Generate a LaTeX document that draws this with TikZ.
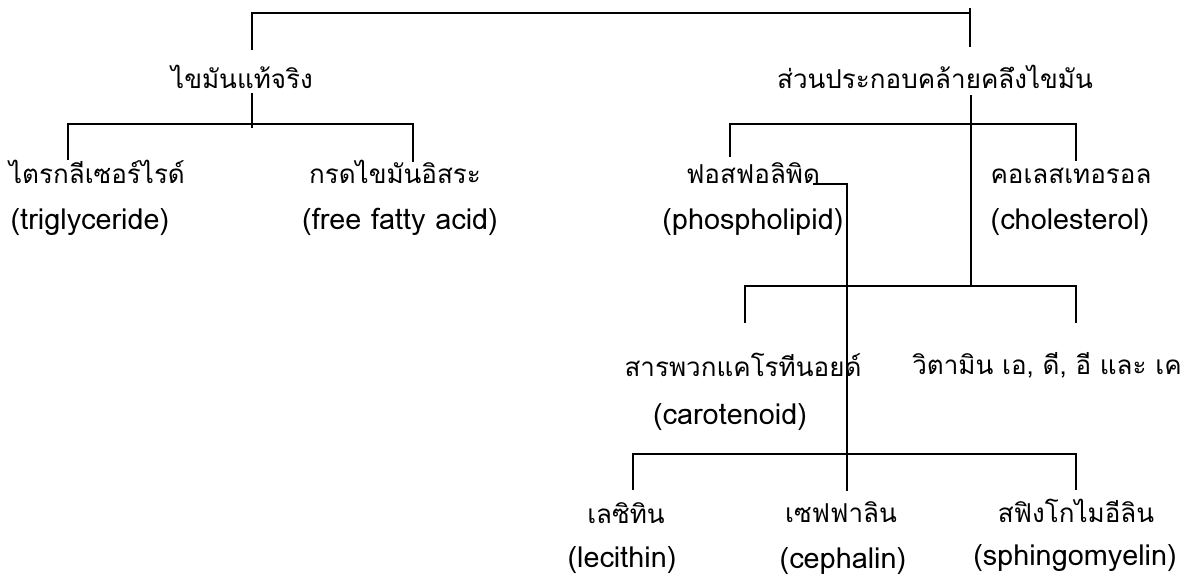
\documentclass[tikz,border=0pt]{standalone}
\usepackage{fontspec}
\newfontfamily\thaifont[Script=Thai]{Loma}

\tikzset{
  th/.style={font=\thaifont\fontsize{18.5}{20}\selectfont, anchor=base, inner sep=0pt},
  en/.style={font=\thaifont\fontsize{20.5}{22}\selectfont, anchor=center, inner sep=0pt},
  tree/.style={line width=1.2pt}
}

\begin{document}
\begin{tikzpicture}[x=0.025cm,y=-0.025cm]
  \useasboundingbox (0,0) rectangle (1189,579);
  % level 1
  \node[th] (fat) at (242,88) {ไขมันแท้จริง};
  \node[th] (like) at (935,88) {ส่วนประกอบคล้ายคลึงไขมัน};
  % level 2
  \node[th] (tri) at (97,183) {ไตรกลีเซอร์ไรด์};
  \node[en] (tri-en) at (90,222) {(triglyceride)};
  \node[th] (ffa) at (395,183) {กรดไขมันอิสระ};
  \node[en] (ffa-en) at (400,222) {(free fatty acid)};
  \node[th] (phos) at (753,183) {ฟอสฟอลิพิด};
  \node[en] (phos-en) at (753,222) {(phospholipid)};
  \node[th] (chol) at (1071,183) {คอเลสเทอรอล};
  \node[en] (chol-en) at (1070,222) {(cholesterol)};
  \node[th] (caro) at (743,376) {สารพวกแคโรทีนอยด์};
  \node[en] (caro-en) at (730,417) {(carotenoid)};
  \node[th] (vit) at (1047,374) {วิตามิน เอ, ดี, อี และ เค};
  % phospholipid kinds
  \node[th] (leci) at (626,523) {เลซิทิน};
  \node[en] (leci-en) at (622,560) {(lecithin)};
  \node[th] (ceph) at (841,522) {เซฟฟาลิน};
  \node[en] (ceph-en) at (843,561) {(cephalin)};
  \node[th] (sphi) at (1076,522) {สฟิงโกไมอีลิน};
  \node[en] (sphi-en) at (1075,558) {(sphingomyelin)};

  % branch points
  \coordinate (fat-in) at (252,50);
  \coordinate (like-in) at (970,8);
  \coordinate (top) at (970,13);
  \coordinate (fat-out) at (252,93);
  \coordinate (fat-bus) at (252,124);
  \coordinate (like-out) at (971,95);
  \coordinate (like-bus) at (971,124);
  \coordinate (like-bus2) at (971,286);
  \coordinate (phos-out) at (813,184);
  \coordinate (phos-bus) at (847,454);

  % connectors
  \draw[tree] (fat-in) |- (top) -- (like-in) -- ++(0,39);
  \draw[tree] (fat-out) -- ++(0,35);
  \draw[tree] (68,160) |- (fat-bus) -| (413,162);
  \draw[tree] (like-out) -- (like-bus2);
  \draw[tree] (730,157) |- (like-bus) -| (1076,161);
  \draw[tree] (745,323) |- (like-bus2) -| (1076,323);
  \draw[tree] (phos-out) -| (phos-bus) -- (847,491);
  \draw[tree] (633,490) |- (phos-bus) -| (1076,490);
\end{tikzpicture}
\end{document}
